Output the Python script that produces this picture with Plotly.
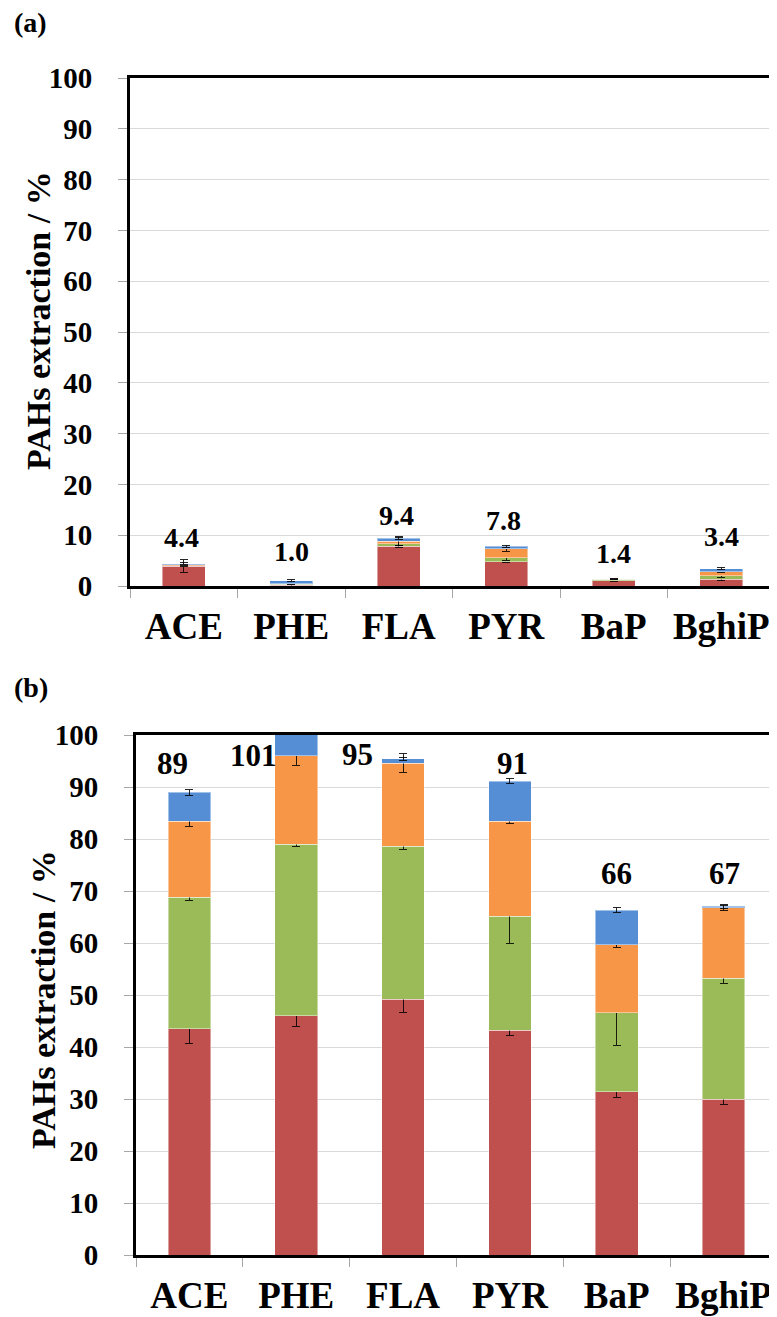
import plotly.graph_objects as go

# the page body has an 8px margin, so the figure is drawn 8px in from the corner
OFF = 8
W, H = 777 - OFF, 1317 - OFF

categories = ["ACE", "PHE", "FLA", "PYR", "BaP", "BghiP"]

# panel (a): extraction per step, %
a_red = [3.9, 0.1, 7.8, 4.8, 1.0, 1.3]
a_green = [0.1, 0.2, 0.5, 0.8, 0.3, 0.7]
a_orange = [0.2, 0.1, 0.5, 1.7, 0.05, 0.8]
a_blue = [0.2, 0.6, 0.6, 0.5, 0.05, 0.6]
a_red_err = [1.3, 0.1, 0.3, 0.2, 0.1, 0.2]
a_green_err = [0.1, 0.1, 0.3, 0.6, 0.1, 0.3]
a_orange_err = [0.1, 0.1, 0.9, 0.5, 0.05, 0.2]
a_blue_err = [0.2, 0.2, 0.2, 0.2, 0.1, 0.2]

# panel (b)
b_red = [43.5, 46.0, 49.2, 43.2, 31.4, 30.0]
b_green = [25.3, 33.0, 29.4, 21.9, 15.2, 23.2]
b_orange = [14.6, 17.0, 16.0, 18.3, 13.1, 13.6]
b_blue = [5.6, 5.0, 0.8, 7.7, 6.6, 0.3]
b_red_err = [2.9, 2.0, 2.6, 1.0, 1.2, 1.0]
b_green_err = [0.6, 0.5, 0.6, 5.2, 6.3, 1.0]
b_orange_err = [0.9, 1.8, 1.8, 0.5, 0.5, 0.5]
b_blue_err = [0.6, 0.8, 0.3, 0.5, 0.5, 0.4]

y_ticks = [0, 10, 20, 30, 40, 50, 60, 70, 80, 90, 100]

colors = ["#C0504D", "#9BBB59", "#F79646", "#558ED5"]
names = ["Step 1", "Step 2", "Step 3", "Step 4"]

# label offsets in pixels (dx, dy) - labels were moved by hand in the original
a_label_dx = [-2, 0, -2, -3, 0, 0]
a_label_dy = [26, 29, 23, 26, 25, 32]
b_label_dx = [-17, -43, -46, 3, 0, 1]
b_label_dy = [29, -20, 4, 18, 37, 33]

FONT = "Liberation Serif"


def px(x):
    return (x - OFF) / W


def py(y):
    return 1 - (y - OFF) / H


fig = go.Figure()

panels = [
    ("x", "y", [a_red, a_green, a_orange, a_blue],
     [a_red_err, a_green_err, a_orange_err, a_blue_err]),
    ("x2", "y2", [b_red, b_green, b_orange, b_blue],
     [b_red_err, b_green_err, b_orange_err, b_blue_err]),
]

for xa, ya, series, errs in panels:
    for vals, err, col, nm in zip(series, errs, colors, names):
        fig.add_trace(go.Bar(
            x=categories, y=vals, name=nm, xaxis=xa, yaxis=ya,
            marker=dict(color=col, line=dict(color="rgba(255,255,255,0.45)", width=1)),
            error_y=dict(type="data", array=err, color="rgba(0,0,0,0.85)",
                         thickness=1, width=4),
            showlegend=False,
        ))

a_tot = [sum(v) for v in zip(a_red, a_green, a_orange, a_blue)]
b_tot = [sum(v) for v in zip(b_red, b_green, b_orange, b_blue)]

ann = []
for c, t, dx, dy in zip(categories, a_tot, a_label_dx, a_label_dy):
    ann.append(dict(x=c, y=t, xref="x", yref="y", text="%.1f" % t, showarrow=False,
                    xshift=dx, yshift=dy, yanchor="middle",
                    font=dict(family=FONT, size=28, color="black", weight="bold")))
for c, t, dx, dy in zip(categories, b_tot, b_label_dx, b_label_dy):
    ann.append(dict(x=c, y=min(t, 100), xref="x2", yref="y2", text="%d" % round(t),
                    showarrow=False, xshift=dx, yshift=dy, yanchor="middle",
                    font=dict(family=FONT, size=31, color="black", weight="bold")))

# panel letters and y titles
for txt, y in [("(a)", 22), ("(b)", 688)]:
    ann.append(dict(x=px(12), y=py(y), xref="paper", yref="paper", text=txt,
                    showarrow=False, xanchor="left", yanchor="middle",
                    font=dict(family=FONT, size=28, color="black", weight="bold")))
for xc, yc in [(38, 321), (44, 1000)]:
    ann.append(dict(x=px(xc), y=py(yc), xref="paper", yref="paper",
                    text="PAHs extraction / %", textangle=-90, showarrow=False,
                    xanchor="center", yanchor="middle",
                    font=dict(family=FONT, size=34, color="black", weight="bold")))

xcommon = dict(
    type="category", showline=True, linewidth=3, linecolor="black", mirror=True,
    ticks="outside", tickson="boundaries", ticklen=9, tickcolor="#A6A6A6",
    tickfont=dict(family=FONT, size=37, color="black", weight="bold"),
    showgrid=False, ticklabelstandoff=6, automargin=False,
)
ycommon = dict(
    range=[0, 100], tickvals=y_ticks, showline=True, linewidth=3, linecolor="black",
    mirror=True, ticks="outside", ticklen=9, tickcolor="#A6A6A6",
    tickfont=dict(family=FONT, size=29, color="black", weight="bold"),
    showgrid=True, gridcolor="#D9D9D9", gridwidth=1, zeroline=False,
    ticklabelstandoff=20, automargin=False,
)

fig.update_layout(
    width=W, height=H,
    margin=dict(l=0, r=0, t=0, b=0, pad=0, autoexpand=False),
    paper_bgcolor="white", plot_bgcolor="white",
    barmode="stack", bargap=0.6,
    xaxis=dict(xcommon, domain=[px(130), px(775)], anchor="y", range=[-0.5, 5.5]),
    yaxis=dict(ycommon, domain=[py(586), py(78)], anchor="x"),
    xaxis2=dict(xcommon, domain=[px(136), 1.0], anchor="y2", range=[-0.5, 5.5]),
    yaxis2=dict(ycommon, domain=[py(1255), py(735)], anchor="x2"),
    annotations=ann,
)

fig.write_html("out.html")
